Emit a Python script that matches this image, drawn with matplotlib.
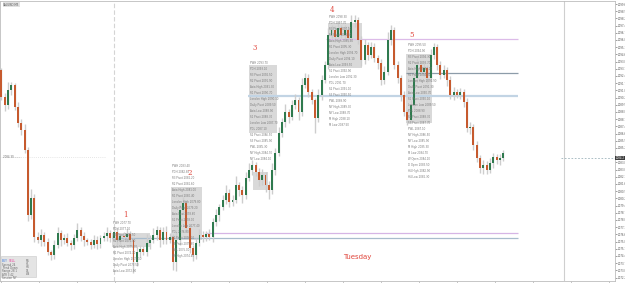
import matplotlib.pyplot as plt
from matplotlib.patches import Rectangle
import numpy as np

# candle data (open of each bar = previous close)
first_open = 2093.0
closes = [
    2090.3, 2089.5, 2091.0, 2091.5, 2089.3, 2087.7, 2087.0, 2085.0, 2078.5, 2080.2,
    2076.3, 2076.0, 2076.5, 2075.8, 2074.8, 2074.5, 2075.5, 2076.7, 2076.0, 2076.2,
    2075.7, 2075.5, 2076.2, 2077.0, 2076.4, 2076.0, 2075.8, 2075.5, 2076.0, 2075.6,
    2076.2, 2076.4, 2076.7, 2076.2, 2076.8, 2076.0, 2076.4, 2076.3, 2076.6, 2076.0,
    2073.8, 2074.8, 2075.1, 2074.8, 2075.7, 2076.0, 2076.5, 2077.0, 2076.0, 2076.8,
    2076.0, 2076.3, 2073.8, 2076.0, 2079.0, 2079.7, 2077.2, 2075.2, 2074.5, 2075.7,
    2076.5, 2076.3, 2076.6, 2076.3, 2077.8, 2078.5, 2079.3, 2080.0, 2080.7, 2079.8,
    2080.0, 2081.5, 2081.0, 2080.5, 2082.2, 2083.0, 2083.5, 2082.8, 2082.0, 2082.5,
    2081.5, 2081.0, 2083.0, 2084.7, 2086.7, 2087.8, 2088.8, 2088.3, 2089.5, 2090.0,
    2088.8, 2091.5, 2092.2, 2090.8, 2090.0, 2088.2, 2090.5, 2092.0, 2093.5, 2096.5,
    2097.0, 2096.3, 2097.2, 2096.5, 2097.0, 2096.2, 2097.8, 2098.0, 2096.0, 2094.0,
    2095.5, 2094.5, 2095.3, 2094.2, 2093.7, 2092.0, 2092.8, 2096.0, 2097.0, 2093.5,
    2092.2, 2090.5, 2088.8, 2088.0, 2089.5, 2092.2, 2093.5, 2092.8, 2093.2, 2092.2,
    2094.5, 2095.3, 2093.5, 2092.5, 2093.0, 2092.0, 2090.5, 2090.8, 2090.5, 2090.8,
    2089.8, 2087.2, 2087.3, 2085.5, 2084.2, 2083.2, 2083.5, 2083.0, 2083.7, 2084.3,
    2084.0, 2084.2, 2084.7,
]
up_w = [
    0.2, 0.4, 0.8, 0.3, 0.2, 0.5, 0.4, 0.6, 0.3, 0.9,
    0.4, 0.5, 0.6, 0.3, 0.4, 0.2, 0.5, 0.6, 0.3, 0.4,
    0.5, 0.3, 0.4, 0.7, 0.3, 0.4, 0.2, 0.3, 0.5, 0.4,
    0.3, 0.4, 0.6, 0.3, 0.5, 0.4, 0.3, 0.4, 0.5, 0.3,
    0.2, 0.6, 0.4, 0.3, 0.9, 0.5, 0.7, 0.4, 0.3, 0.5,
    0.6, 0.4, 0.3, 0.8, 0.5, 0.6, 0.3, 0.4, 0.3, 0.5,
    0.6, 0.4, 0.3, 0.5, 0.4, 0.6, 0.3, 0.5, 0.8, 0.4,
    0.5, 0.9, 0.3, 0.4, 0.6, 0.7, 0.5, 0.3, 0.4, 0.6,
    0.3, 0.4, 0.7, 0.5, 0.6, 0.4, 0.8, 0.3, 0.5, 0.6,
    0.3, 0.7, 0.5, 0.4, 0.3, 0.2, 0.6, 0.5, 0.4, 0.7,
    0.5, 0.4, 0.6, 0.3, 0.5, 0.4, 0.7, 0.5, 0.3, 0.4,
    0.6, 0.3, 0.5, 0.4, 0.3, 0.4, 0.6, 0.8, 0.5, 0.3,
    0.4, 0.3, 0.4, 0.2, 0.5, 0.6, 0.7, 0.4, 0.5, 0.3,
    0.6, 0.4, 0.3, 0.4, 0.5, 0.3, 0.4, 0.5, 0.3, 0.4,
    0.3, 0.4, 0.5, 0.3, 0.4, 0.3, 0.5, 0.4, 0.5, 0.4,
    0.3, 0.4, 0.3,
]
dn_w = [
    0.3, 0.6, 0.4, 0.5, 0.3, 0.4, 0.5, 0.3, 0.6, 0.4,
    0.5, 0.3, 0.6, 0.4, 0.3, 0.5, 0.4, 0.3, 0.6, 0.4,
    0.3, 0.5, 0.4, 0.3, 0.5, 0.6, 0.3, 0.4, 0.3, 0.5,
    0.4, 0.3, 0.5, 0.4, 0.3, 0.6, 0.4, 0.3, 0.5, 0.4,
    1.1, 0.4, 0.5, 0.3, 0.4, 0.6, 0.3, 0.5, 0.7, 0.4,
    0.4, 0.3, 0.8, 0.9, 0.5, 0.4, 0.3, 0.5, 0.6, 0.4,
    0.3, 0.5, 0.4, 0.3, 0.5, 0.4, 0.6, 0.3, 0.4, 0.5,
    0.4, 0.3, 0.6, 0.8, 0.4, 0.3, 0.5, 0.4, 0.6, 0.5,
    0.7, 0.9, 0.4, 0.5, 0.3, 0.4, 0.5, 0.6, 0.3, 0.4,
    0.8, 0.4, 0.3, 0.5, 0.4, 1.5, 0.4, 0.5, 0.3, 0.4,
    0.3, 0.5, 0.4, 0.3, 0.6, 0.4, 0.3, 0.5, 0.4, 0.6,
    0.4, 0.5, 0.3, 0.4, 0.6, 0.5, 0.4, 0.3, 0.5, 0.4,
    0.5, 0.6, 0.4, 0.5, 0.3, 0.4, 0.5, 0.3, 0.4, 0.5,
    0.3, 0.4, 0.5, 0.4, 0.3, 0.6, 0.4, 0.5, 0.3, 0.4,
    0.5, 0.4, 0.6, 0.5, 0.4, 0.5, 0.6, 0.4, 0.3, 0.5,
    0.4, 0.5, 0.3,
]

# grey zones: start bar, end bar, top, bottom
zone_x0 = [33.5, 51.4, 75.0, 76.2, 98.9, 122.6]
zone_x1 = [45.0, 60.8, 83.5, 80.8, 109.2, 130.5]
zone_top = [2076.7, 2081.3, 2093.5, 2082.8, 2097.7, 2094.6]
zone_bot = [2075.3, 2076.0, 2086.7, 2081.0, 2093.2, 2087.7]

# horizontal levels
level_price = [2096.1, 2092.7, 2090.4, 2076.7, 2076.2]
level_x0 = [98.3, 122.6, 74.7, 61.7, 33.5]
level_x1 = [156.5, 156.5, 156.5, 156.5, 156.5]
level_color = ['#dcbbe8', '#8d9ca9', '#c2d4e4', '#d6b5e5', '#a8bccd']
level_lw = [0.9, 0.9, 1.6, 0.9, 0.9]

# swing counts
swing_text = ['1', '2', '3', '4', '5']
swing_x = [37.4, 57.1, 76.8, 100.2, 124.4]
swing_y = [2078.5, 2082.7, 2095.2, 2099.0, 2096.5]

# small level-label columns: x bar, first price, number of rows
col_x = [33.8, 51.7, 75.3, 99.2, 123.2]
col_top = [2077.7, 2083.4, 2093.7, 2098.3, 2095.5]
col_rows = [9, 16, 17, 19, 23]
level_names = ['PWH', 'PDH', 'R3 Pivot', 'R2 Pivot', 'Asia High', 'R1 Pivot',
               'London High', 'Daily Pivot', 'Asia Low', 'S1 Pivot', 'London Low',
               'PDL', 'S2 Pivot', 'S3 Pivot', 'PWL', 'NY High', 'NY Low', 'M High',
               'M Low', 'W Open', 'D Open', 'H4 High', 'H4 Low']

bid = 2084.2
sep_x = [34.1, 170.5]

fig = plt.figure(figsize=(6.25, 2.83), dpi=100)
ax = fig.add_axes([0, 2/283, 615/625, 280/283])
ax.set_xlim(-0.45, 185.9)
ax.set_ylim(2071.9, 2099.9)

# zones behind the candles
for x0, x1, t, b in zip(zone_x0, zone_x1, zone_top, zone_bot):
    ax.add_patch(Rectangle((x0, b), x1 - x0, t - b, facecolor='#d3d3d3',
                           edgecolor='none', alpha=0.85, zorder=1))

for p, x0, x1, c, lw in zip(level_price, level_x0, level_x1, level_color, level_lw):
    ax.hlines(p, x0, x1, colors=c, lw=lw, zorder=2)

ax.axvline(sep_x[0], color='#d4d4d4', lw=0.8, ls=(0, (4, 2)), zorder=0)
ax.axvline(sep_x[1], color='#cfcfcf', lw=0.8, zorder=0)

# candles
opens = [first_open] + closes[:-1]
xs = np.arange(len(closes))
highs = [max(o, c) + u for o, c, u in zip(opens, closes, up_w)]
lows = [min(o, c) - d for o, c, d in zip(opens, closes, dn_w)]
ax.vlines(xs, lows, highs, colors='#cdcdcd', lw=1.0, zorder=3)
body = [c - o if abs(c - o) > 0.05 else 0.08 for o, c in zip(opens, closes)]
cols = ['#2f7a4e' if c >= o else '#c65a2e' for o, c in zip(opens, closes)]
ax.bar(xs, body, bottom=opens, width=0.6, color=cols, lw=0, zorder=4)

# level label columns
for cx, ct, n in zip(col_x, col_top, col_rows):
    for k in range(n):
        name = level_names[k % len(level_names)]
        ax.text(cx, ct - 0.6 * k, f'{name} {ct - 0.6 * k:.2f}', fontsize=1.9,
                color='#7a7a7a', va='center', ha='left', zorder=5)

for t, x, y in zip(swing_text, swing_x, swing_y):
    ax.text(x, y, t, fontsize=5, color='#e0463c', ha='center', va='center',
            family='serif', zorder=6)
ax.text(107.7, 2074.3, 'Tuesday', fontsize=5, color='#e0463c', ha='center',
        va='center', zorder=6)

# bid line and old level on the left
ax.hlines(bid, 169.5, 185.9, colors='#9db3bb', lw=0.6, linestyles=(0, (2, 2)))
ax.hlines(2084.3, -0.45, 31.4, colors='#cfcfcf', lw=0.5, linestyles=(0, (1, 2)))
ax.text(0.5, 2084.3, '2084.30 ------', fontsize=1.9, color='#6a6a6a', va='center')

# right price scale
ticks = [t for t in np.arange(2099.6, 2071.9, -0.72) if abs(t - bid) > 0.4]
ax.yaxis.tick_right()
ax.set_yticks(ticks)
ax.set_yticklabels([f'{t:.1f}' for t in ticks])
ax.tick_params(axis='y', labelsize=1.9, colors='#555555', length=1.2, width=0.4, pad=0.5)
ax.set_xticks(np.arange(0, 186, 11.5))
ax.tick_params(axis='x', labelbottom=False, length=1.5, width=0.4, colors='#999999')
ax.text(1.001, bid, f'{bid:.1f}', transform=ax.get_yaxis_transform(), fontsize=1.9,
        color='white', va='center', ha='left',
        bbox=dict(boxstyle='square,pad=0.15', fc='#3c3c3c', ec='none'))

for s in ax.spines.values():
    s.set_color('#bdbdbd')
    s.set_linewidth(0.6)

# title and info panel
ax.text(0.5, 2099.55, 'XAUUSD,M5', fontsize=2.0, color='#555555', va='center',
        bbox=dict(boxstyle='square,pad=0.2', fc='#e2e2e2', ec='none'))
fig.patches.append(Rectangle((1/625, 6/283), 35/625, 21/283, transform=fig.transFigure,
                             facecolor='#e4e4e4', edgecolor='#c8c8c8', lw=0.4))
fig.text(2/625, 1 - 261/283, 'BUY', fontsize=2.2, color='#3b7be0', va='center')
fig.text(9/625, 1 - 261/283, 'SELL', fontsize=2.2, color='#e8409a', va='center')
info_rows = ['Spread 24', 'Trend Down', 'Range 28.1', 'ATR 3.42', 'Session NY']
info_vals = ['M5', 'H1', 'H4', 'D1', 'W1']
for k, (r, v) in enumerate(zip(info_rows, info_vals)):
    fig.text(2/625, 1 - (265 + 3.2 * k)/283, r, fontsize=1.9, color='#6a6a6a', va='center')
    fig.text(26/625, 1 - (261 + 3.2 * k)/283, v, fontsize=1.9, color='#6a6a6a', va='center')

fig.savefig('out.png', dpi=100)
